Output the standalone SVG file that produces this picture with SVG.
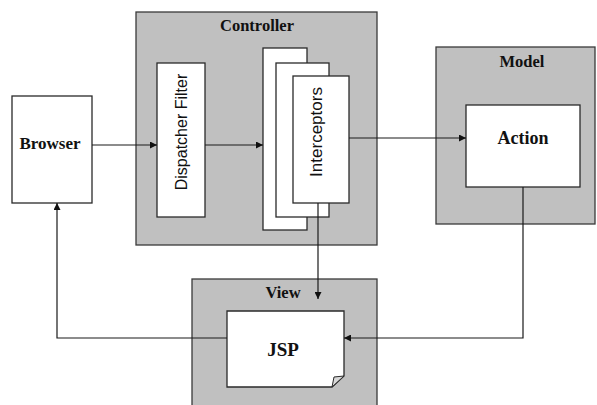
<svg xmlns="http://www.w3.org/2000/svg" width="597" height="405" viewBox="0 0 597 405">
<style>
.pkg{fill:#c0c0c0;stroke:#3a3a3a;stroke-width:1.3}
.box{fill:#ffffff;stroke:#2a2a2a;stroke-width:1.3}
.ttl{font-family:"Liberation Serif","Times New Roman",serif;font-weight:bold;fill:#111;text-anchor:middle}
.lbl{font-family:"Liberation Sans",Arial,sans-serif;fill:#111;text-anchor:middle;dominant-baseline:central}
.con{fill:none;stroke:#1a1a1a;stroke-width:1.2}
</style>
<defs>
<marker id="ah" viewBox="0 0 10 10" refX="10" refY="5" markerWidth="8" markerHeight="7" markerUnits="userSpaceOnUse" orient="auto">
<path d="M0,0 L10,5 L0,10 Z" fill="#111"/>
</marker>
</defs>
<rect width="597" height="405" fill="#ffffff"/>
<g id="controller">
<rect class="pkg" x="136" y="12" width="241" height="233"/>
<text class="ttl" x="257" y="31" font-size="16.5">Controller</text>
</g>
<g id="model">
<rect class="pkg" x="436" y="47" width="159" height="177"/>
<text class="ttl" x="522" y="67" font-size="16.5">Model</text>
</g>
<g id="view">
<rect class="pkg" x="192" y="279" width="185" height="135"/>
<text class="ttl" x="283" y="298" font-size="16.5">View</text>
</g>
<g id="browser">
<rect class="box" x="12" y="96" width="80" height="107"/>
<text class="ttl" x="50" y="149" font-size="17">Browser</text>
</g>
<g id="dispatcher">
<rect class="box" x="157" y="63" width="48" height="154"/>
<text class="lbl" transform="translate(181,132) rotate(-90)" font-size="16">Dispatcher Filter</text>
</g>
<g id="interceptors">
<rect class="box" x="263" y="48" width="44" height="182"/>
<rect class="box" x="276" y="63" width="53" height="154" stroke="#555"/>
<rect class="box" x="293" y="76" width="56" height="127"/>
<text class="lbl" transform="translate(316,132) rotate(-90)" font-size="17">Interceptors</text>
</g>
<g id="action">
<rect class="box" x="466" y="105" width="114" height="82"/>
<text class="ttl" x="523" y="144" font-size="18">Action</text>
</g>
<g id="jsp">
<path class="box" d="M227,311 H344 V376 L332,387 H227 Z"/>
<path d="M344,376 L332,387 L334,377 Z" fill="#d8d8d8" stroke="#2a2a2a" stroke-width="1"/>
<text class="ttl" x="283" y="356" font-size="19">JSP</text>
</g>
<g id="connectors">
<line class="con" x1="92" y1="145" x2="157" y2="145" marker-end="url(#ah)"/>
<line class="con" x1="205" y1="145" x2="263" y2="145" marker-end="url(#ah)"/>
<line class="con" x1="349" y1="138" x2="466" y2="138" marker-end="url(#ah)"/>
<line class="con" x1="318" y1="203" x2="318" y2="299" marker-end="url(#ah)"/>
<polyline class="con" points="523,187 523,338 344,338" marker-end="url(#ah)"/>
<polyline class="con" points="227,338 57,338 57,203" marker-end="url(#ah)"/>
</g>
</svg>
